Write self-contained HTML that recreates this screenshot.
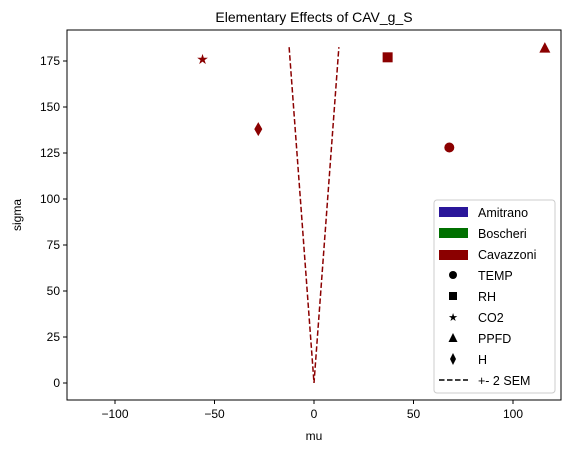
<!DOCTYPE html>
<html><head><meta charset="utf-8"><style>
body{margin:0;background:#fff}
svg{font-family:"Liberation Sans","DejaVu Sans",sans-serif}
</style></head><body>
<svg id="c" width="571" height="453" xmlns="http://www.w3.org/2000/svg">
<rect x="0" y="0" width="571" height="453" fill="#fff"/>
<text x="314" y="22" font-size="14" text-anchor="middle">Elementary Effects of CAV_g_S</text>
<g id="grid"></g>
<g id="marks"></g>
<rect x="67" y="30" width="494" height="370" fill="none" stroke="#000" stroke-width="1"/>
<text x="314" y="440" font-size="12" text-anchor="middle">mu</text>
<text x="21" y="215" font-size="12" text-anchor="middle" transform="rotate(-90 21 215)">sigma</text>
<g id="legend">
<rect x="434" y="200" width="121" height="193" rx="3" fill="#fff" fill-opacity="0.8" stroke="#ccc"/>
<rect x="439" y="207" width="29" height="10" fill="#2a169a"/>
<text x="478" y="217" font-size="12.5">Amitrano</text>
<rect x="439" y="228" width="29" height="10" fill="#007000"/>
<text x="478" y="238" font-size="12.5">Boscheri</text>
<rect x="439" y="250" width="29" height="10" fill="#8b0000"/>
<text x="478" y="259" font-size="12.5">Cavazzoni</text>
<circle cx="453" cy="275" r="4" fill="#000"/>
<text x="478" y="280" font-size="12.5">TEMP</text>
<rect x="449" y="292" width="8" height="8" fill="#000"/>
<text x="478" y="301" font-size="12.5">RH</text>
<text x="453" y="321" font-size="11" text-anchor="middle">★</text>
<text x="478" y="322" font-size="12.5">CO2</text>
<polygon points="453,333 457.5,342 448.5,342" fill="#000"/>
<text x="478" y="343" font-size="12.5">PPFD</text>
<polygon points="453,353 456,359 453,365 450,359" fill="#000"/>
<text x="478" y="364" font-size="12.5">H</text>
<line x1="439" y1="380" x2="468" y2="380" stroke="#000" stroke-width="1.5" stroke-dasharray="5.5,2.5"/>
<text x="478" y="385" font-size="12.5">+- 2 SEM</text>
</g>
</svg>
<script>
const xTicks=[-100,-50,0,50,100];
const yTicks=[0,25,50,75,100,125,150,175];
const factors=["TEMP","RH","CO2","PPFD","H"];
const muValues=[68,37,-56,116,-28];
const sigmaValues=[128,177,176,182,138];
const semMu=[-12.5,0,12.5];
const semSigma=[182.5,0,182.5];
const NS="http://www.w3.org/2000/svg";
const X=v=>314+v*1.99;
const Y=v=>383-v*1.84;
const g=document.getElementById('grid'),m=document.getElementById('marks');
function el(t,a,p){const e=document.createElementNS(NS,t);for(const k in a)e.setAttribute(k,a[k]);p.appendChild(e);return e;}
xTicks.forEach(t=>{
 const l=el('line',{x1:X(t),x2:X(t),y1:400,y2:404,stroke:'#000'},g);
 
 
 const tx=el('text',{x:X(t),y:418,'font-size':12,'text-anchor':'middle'},g);tx.textContent=(t<0?'−'+(-t):t);
 
 
});
yTicks.forEach(t=>{
 const l=el('line',{x1:63,x2:67,y1:Y(t),y2:Y(t),stroke:'#000'},g);
 
 
 const tx=el('text',{x:60,y:Y(t)+4,'font-size':12,'text-anchor':'end'},g);tx.textContent=t;
 
 
});
const sem=el('polyline',{points:semMu.map((v,i)=>X(v)+','+Y(semSigma[i])).join(' '),fill:'none',stroke:'#8b0000','stroke-width':1.5,'stroke-dasharray':'5.5,2.5'},m);


const C='#8b0000';
factors.forEach((f,i)=>{
 const x=X(muValues[i]),y=Y(sigmaValues[i]);let e;
 if(f==='TEMP')e=el('circle',{cx:x,cy:y,r:5,fill:C},m);
 else if(f==='RH')e=el('rect',{x:x-5,y:y-5,width:10,height:10,fill:C},m);
 else if(f==='CO2'){e=el('text',{x:x,y:y+5,'font-size':14,'text-anchor':'middle',fill:C},m);e.textContent='★';}
 else if(f==='PPFD')e=el('polygon',{points:`${x},${y-6} ${x+5.5},${y+4.5} ${x-5.5},${y+4.5}`,fill:C},m);
 else e=el('polygon',{points:`${x},${y-7} ${x+4},${y} ${x},${y+7} ${x-4},${y}`,fill:C},m);
 
 
});
</script>
</body></html>
